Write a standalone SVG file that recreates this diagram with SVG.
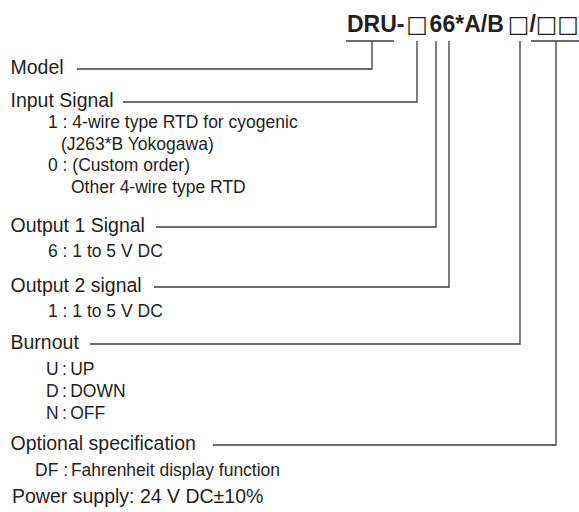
<svg xmlns="http://www.w3.org/2000/svg" width="579" height="512" viewBox="0 0 579 512">
<style>
.lbl{font-family:"Liberation Sans",Arial,sans-serif;font-size:19.5px;fill:#231f20}
.sub{font-family:"Liberation Sans",Arial,sans-serif;font-size:17.5px;fill:#231f20}
.tight{word-spacing:-1.5px}
.ttl{font-family:"Liberation Sans",Arial,sans-serif;font-size:23px;font-weight:bold;fill:#231f20}
.sq{font-family:"DejaVu Sans",sans-serif;font-weight:normal;font-size:23px}
.ln{fill:none;stroke:#3c3c3c;stroke-width:1.3}
</style>
<rect width="579" height="512" fill="#fff"/>
<g id="title">
<text class="ttl" y="32"><tspan x="347">DRU-</tspan><tspan class="sq" x="417" text-anchor="middle">□</tspan><tspan x="429.6">66*A/B</tspan><tspan class="sq" x="518.5" text-anchor="middle">□</tspan><tspan x="529.5">/</tspan><tspan class="sq" x="546.5" text-anchor="middle">□</tspan><tspan class="sq" x="568" text-anchor="middle">□</tspan></text>
</g>
<g id="connectors">
<polyline class="ln" points="77,69 372,69 372,41"/>
<line class="ln" x1="346" y1="41" x2="394" y2="41"/>
<polyline class="ln" points="123,102 417,102 417,41"/>
<polyline class="ln" points="156,227 436,227 436,41"/>
<polyline class="ln" points="154,287 449,287 449,41"/>
<polyline class="ln" points="90,344 520,344 520,41"/>
<polyline class="ln" points="213,445 556,445 556,41"/>
<line class="ln" x1="531" y1="41" x2="579" y2="41"/>
</g>
<g id="model"><text class="lbl" x="10.5" y="74">Model</text></g>
<g id="input">
<text class="lbl" x="10.5" y="107">Input Signal</text>
<text class="sub" x="48" y="128">1 : 4-wire type RTD for cyogenic</text>
<text class="sub" x="61" y="149.5">(J263*B Yokogawa)</text>
<text class="sub" x="48" y="171">0 : (Custom order)</text>
<text class="sub" x="71" y="192.5">Other 4-wire type RTD</text>
</g>
<g id="output1">
<text class="lbl" x="10.5" y="232">Output 1 Signal</text>
<text class="sub" x="48" y="257">6 : 1 to 5 V DC</text>
</g>
<g id="output2">
<text class="lbl" x="10.5" y="292">Output 2 signal</text>
<text class="sub" x="48" y="317">1 : 1 to 5 V DC</text>
</g>
<g id="burnout">
<text class="lbl" x="10.5" y="349">Burnout</text>
<text class="sub tight" x="46" y="375">U : UP</text>
<text class="sub tight" x="46" y="397">D : DOWN</text>
<text class="sub tight" x="46" y="419">N : OFF</text>
</g>
<g id="optional">
<text class="lbl" x="10.5" y="450">Optional specification</text>
<text class="sub" x="35" y="476">DF : <tspan dx="-2">Fahrenheit display function</tspan></text>
</g>
<g id="power"><text class="lbl" x="12" y="503">Power supply: 24 V DC±10%</text></g>
</svg>
